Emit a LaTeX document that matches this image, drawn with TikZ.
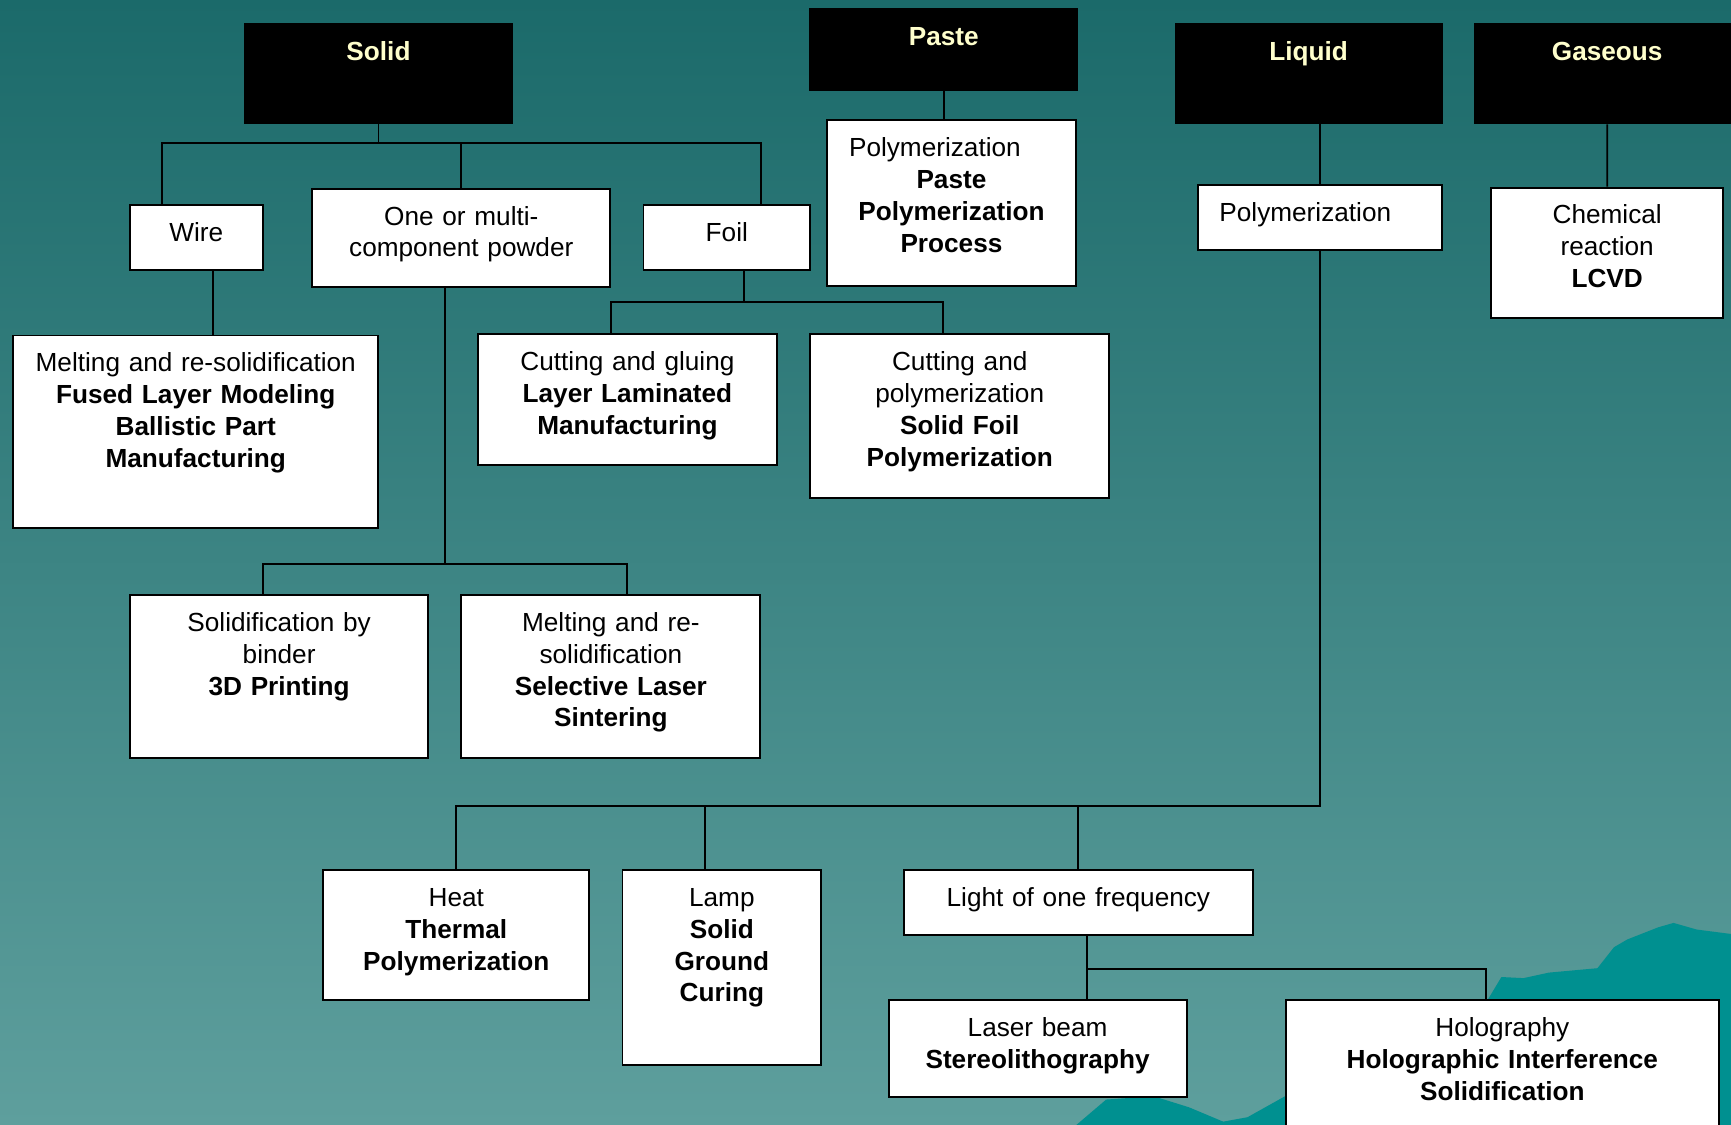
\documentclass[tikz,border=0pt]{standalone}
\usepackage{fontspec}
\setmainfont{Liberation Sans}
\usetikzlibrary{calc}

\definecolor{bgtop}{RGB}{27,106,106}
\definecolor{bgbottom}{RGB}{94,159,157}
\definecolor{hill}{RGB}{0,144,144}
\definecolor{cream}{RGB}{255,255,204}

\tikzset{
  box/.style 2 args={draw, fill=white, line width=1pt, inner sep=0pt, anchor=north west,
    text width=#1, text height=0.66cm, text depth=#2, align=center,
    font=\fontsize{13.5}{16.44}\selectfont},
  phase/.style 2 args={box={#1}{#2}, fill=black, text=cream,
    font=\fontsize{13.5}{16.44}\selectfont\bfseries},
  link/.style={line width=1pt}
}

\begin{document}
\begin{tikzpicture}[x=0.02cm, y=-0.02cm]
        \useasboundingbox (0,0) rectangle (1568,1019);
        \shade[top color=bgtop, bottom color=bgbottom] (0,0) rectangle (1568,1019);
        % hills in the corner
        \fill[hill] (975,1019) -- (1002,996) -- (1045,993) -- (1077,1003) -- (1108,1016) -- (1130,1012)
            -- (1164,993) -- (1250,950) -- (1348,905) -- (1360,885) -- (1380,886) -- (1403,881)
            -- (1447,877) -- (1462,858) -- (1474,851) -- (1502,840) -- (1516,836) -- (1537,842)
            -- (1568,846) -- (1568,1019) -- cycle;

        % states of the material
        \node[phase={4.84cm}{1.14cm}] (solid) at (221,21) {Solid};
        \node[phase={4.84cm}{0.82cm}] (paste) at (733,7) {Paste};
        \node[phase={4.82cm}{1.14cm}] (liquid) at (1064,21) {Liquid};
        \node[phase={4.8cm}{1.14cm}] (gaseous) at (1335,21) {Gaseous};

        % solid
        \node[box={2.4cm}{0.52cm}] (wire) at (117,185) {Wire};
        \node[box={5.4cm}{1.12cm}] (powder) at (282,170) {One or multi-\\component powder};
        \node[box={3.02cm}{0.52cm}] (foil) at (582,185) {Foil};
        \node[box={6.62cm}{2.82cm}] (fdm) at (11,303) {Melting and re-solidification\\\textbf{Fused Layer Modeling}\\\textbf{Ballistic Part}\\\textbf{Manufacturing}};
        \node[box={5.42cm}{1.70cm}] (lom) at (432,302) {Cutting and gluing\\\textbf{Layer Laminated}\\\textbf{Manufacturing}};
        \node[box={5.42cm}{2.30cm}] (sfp) at (733,302) {Cutting and\\polymerization\\\textbf{Solid Foil}\\\textbf{Polymerization}};
        \node[box={5.4cm}{2.30cm}] (tdp) at (117,538) {Solidification by\\binder\\\textbf{3D Printing}};
        \node[box={5.42cm}{2.30cm}] (sls) at (417,538) {Melting and re-\\solidification\\\textbf{Selective Laser}\\\textbf{Sintering}};

        % paste
        \node[box={4.52cm}{2.34cm}] (pastepoly) at (748,108) {Polymerization\hspace{0.6cm}\mbox{}\\\textbf{Paste}\\\textbf{Polymerization}\\\textbf{Process}};

        % liquid
        \node[box={4.42cm}{0.52cm}] (liquidpoly) at (1084,167) {Polymerization\hspace{0.52cm}\mbox{}};
        \node[box={4.82cm}{1.70cm}] (thermal) at (292,787) {Heat\\\textbf{Thermal}\\\textbf{Polymerization}};
        \node[box={3.6cm}{2.88cm}] (sgc) at (563,787) {Lamp\\\textbf{Solid}\\\textbf{Ground}\\\textbf{Curing}};
        \node[box={6.32cm}{0.52cm}] (light) at (818,787) {Light of one frequency};
        \node[box={5.4cm}{1.10cm}] (sla) at (804,905) {Laser beam\\\textbf{Stereolithography}};
        \node[box={7.84cm}{1.90cm}] (hol) at (1164,905) {Holography\\\textbf{Holographic Interference}\\\textbf{Solidification}};

        % gaseous
        \node[box={4.2cm}{1.70cm}] (lcvd) at (1350,169) {Chemical\\reaction\\\textbf{LCVD}};

        % bars where the lines split
        \path (solid.south) ++(0,17) coordinate (solidbar);
        \path ([xshift=-0.3cm]powder.south) ++(0,250) coordinate (powderbar);
        \path ([xshift=0.31cm]foil.south) ++(0,28) coordinate (foilbar);
        \path (liquidpoly.south) ++(0,502) coordinate (liquidbar);
        \path ([xshift=0.16cm]light.south) ++(0,30) coordinate (lightbar);

        % solid to wire, powder and foil
        \draw[link] (solid.south) -- (solidbar);
        \draw[link] ([xshift=0.6cm]wire.north west) |- (solidbar) -| ([xshift=0.62cm]foil.north);
        \draw[link] (powder.north) -- (powder.north |- solidbar);
        % wire to fdm
        \draw[link] ([xshift=0.3cm]wire.south) -- ([xshift=0.3cm]wire.south |- fdm.north);
        % powder to 3d printing and sls
        \draw[link] ([xshift=-0.3cm]powder.south) -- (powderbar);
        \draw[link] ([xshift=-0.3cm]tdp.north) |- (powderbar) -| ([xshift=0.3cm]sls.north);
        % foil to lom and sfp
        \draw[link] ([xshift=0.31cm]foil.south) -- (foilbar);
        \draw[link] ([xshift=-0.29cm]lom.north) |- (foilbar) -| ([xshift=-0.31cm]sfp.north);
        % paste, liquid, gaseous
        \draw[link] (paste.south) -- (paste.south |- pastepoly.north);
        \draw[link] (liquidpoly.north) -- (liquidpoly.north |- liquid.south);
        \draw[link] (gaseous.south) -- (lcvd.north);
        % liquid polymerization to the three light sources
        \draw[link] (liquidpoly.south) -- (liquidbar) -| (thermal.north);
        \draw[link] ([xshift=-0.3cm]sgc.north) -- ([xshift=-0.3cm]sgc.north |- liquidbar);
        \draw[link] (light.north) -- (light.north |- liquidbar);
        % light of one frequency to sla and holography
        \draw[link] ([xshift=0.16cm]light.south) -- ([xshift=0.16cm]light.south |- sla.north);
        \draw[link] (lightbar) -| ([xshift=-0.3cm]hol.north);
    \end{tikzpicture}
\end{document}
